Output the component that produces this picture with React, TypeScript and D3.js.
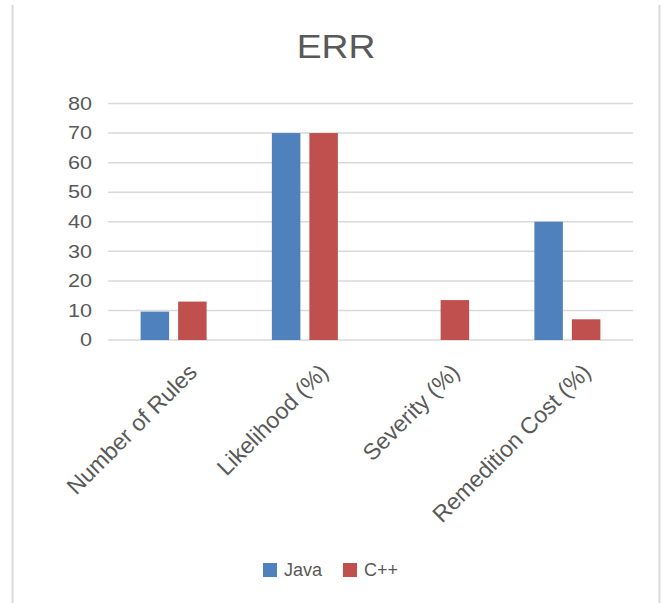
import React from "react";
import * as d3 from "d3";

const categories = ["Number of Rules", "Likelihood (%)", "Severity (%)", "Remedition Cost (%)"];
const seriesNames = ["Java", "C++"];
const javaValues = [9.6, 70, 0, 40];
const cppValues = [13, 70, 13.5, 7];
const yTicks = [0, 10, 20, 30, 40, 50, 60, 70, 80];
const seriesColors = ["#4f81bd", "#c0504d"];

const W = 666;
const H = 603;
const FONT = "'Liberation Sans', Arial, sans-serif";
const TEXT = "#595959";

export default function App() {
  const x0 = d3.scaleBand<string>().domain(categories).range([108, 633]);
  const y = d3.scaleLinear().domain([0, 80]).range([340, 103.5]);
  const values = [javaValues, cppValues];

  return (
    <svg
      width={W}
      height={H}
      style={{ position: "absolute", left: 0, top: 0, background: "#fff" }}
    >
      <line x1={12.5} x2={12.5} y1={5} y2={H} stroke="#d9d9d9" strokeWidth={2} />
      <line x1={659.5} x2={659.5} y1={5} y2={H} stroke="#d9d9d9" strokeWidth={2} />

      <text
        transform="translate(336,58) scale(1.13,1)"
        textAnchor="middle"
        fontFamily={FONT}
        fontSize={33}
        fill={TEXT}
      >
        ERR
      </text>

      {yTicks.map((t) => (
        <g key={t}>
          <line x1={108} x2={633} y1={y(t)} y2={y(t)} stroke="#d9d9d9" strokeWidth={1.5} />
          <text
            transform={`translate(92,${y(t)}) scale(1.2,1)`}
            dy="0.35em"
            textAnchor="end"
            fontFamily={FONT}
            fontSize={18}
            fill={TEXT}
          >
            {t}
          </text>
        </g>
      ))}

      {categories.map((c, i) => {
        const cx = (x0(c) as number) + x0.bandwidth() / 2;
        const x1 = d3.scaleBand<string>().domain(seriesNames).range([cx - 33, cx + 33]).paddingInner(0.24);
        return (
          <g key={c}>
            {seriesNames.map((s, j) => {
              const v = values[j][i];
              if (v <= 0) return null;
              return (
                <rect
                  key={s}
                  x={x1(s)}
                  y={y(v)}
                  width={x1.bandwidth()}
                  height={y(0) - y(v)}
                  fill={seriesColors[j]}
                />
              );
            })}
            <text
              transform={`translate(${cx + 19},${368}) rotate(-45)`}
              textAnchor="end"
              dy="0.35em"
              fontFamily={FONT}
              fontSize={23}
              fill={TEXT}
            >
              {c}
            </text>
          </g>
        );
      })}

      {seriesNames.map((s, j) => {
        const lx = j === 0 ? 263 : 343;
        return (
          <g key={s}>
            <rect x={lx} y={563} width={14} height={14} fill={seriesColors[j]} />
            <text x={lx + 21} y={570} dy="0.35em" fontFamily={FONT} fontSize={18} fill={TEXT}>
              {s}
            </text>
          </g>
        );
      })}
    </svg>
  );
}
